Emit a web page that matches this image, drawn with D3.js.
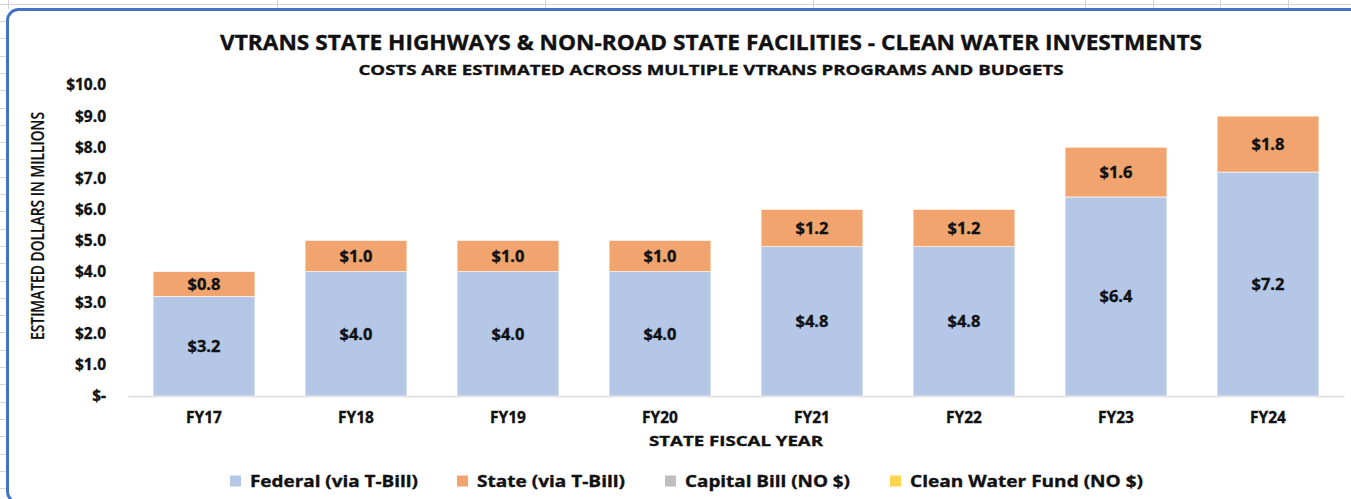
<!DOCTYPE html>
<html lang="en">
<head>
    <meta charset="UTF-8">
    <script src="https://d3js.org/d3.v7.min.js"></script>
    <title>VTrans Clean Water Investments</title>
    <style>
        body { margin: 0; background: #fff; }
        svg { display: block; font-family: 'Open Sans', sans-serif; }
        text { fill: #111; }
        text.bold { font-weight: 700; stroke: #111; stroke-width: 0.35px; }
    </style>
</head>
<body>
<svg height="499" width="1351"></svg>
<script>
    const years = ["FY17", "FY18", "FY19", "FY20", "FY21", "FY22", "FY23", "FY24"];
    const federal = [3.2, 4.0, 4.0, 4.0, 4.8, 4.8, 6.4, 7.2];
    const state = [0.8, 1.0, 1.0, 1.0, 1.2, 1.2, 1.6, 1.8];
    const capitalBill = [0, 0, 0, 0, 0, 0, 0, 0];
    const cleanWaterFund = [0, 0, 0, 0, 0, 0, 0, 0];
    const yTicks = [0, 1, 2, 3, 4, 5, 6, 7, 8, 9, 10];
    const seriesNames = ["Federal (via T-Bill)", "State (via T-Bill)", "Capital Bill (NO $)", "Clean Water Fund (NO $)"];
    const colors = ["#B4C7E7", "#F2A46E", "#BFBFBF", "#FFD54F"];

    const svg = d3.select("svg");

    // spreadsheet behind the chart
    const sheet = svg.append("g").attr("stroke", "#d4d4d4").attr("stroke-width", 1);
    sheet.append("line").attr("x1", 0).attr("x2", 1351).attr("y1", 4.5).attr("y2", 4.5);
    [8, 277, 545, 813, 1085, 1153, 1220, 1288].forEach(x =>
        sheet.append("line").attr("x1", x + .5).attr("x2", x + .5).attr("y1", 0).attr("y2", 9));
    d3.range(21, 499, 17.3).forEach(y =>
        sheet.append("line").attr("x1", 0).attr("x2", 7).attr("y1", Math.round(y) + .5).attr("y2", Math.round(y) + .5));

    // chart frame
    svg.append("rect")
        .attr("x", 7.5).attr("y", 9.5).attr("width", 1420).attr("height", 493)
        .attr("rx", 11).attr("fill", "#fff")
        .attr("stroke", "#4472C4").attr("stroke-width", 3);

    const x = d3.scaleBand().domain(years).range([128, 1344])
        .paddingInner(0.33).paddingOuter(0.165);
    const y = d3.scaleLinear().domain([0, 10]).range([396, 85]);

    const table = years.map((fy, i) => ({
        fy, federal: federal[i], state: state[i], capital: capitalBill[i], clean: cleanWaterFund[i]
    }));
    const keys = ["federal", "state", "capital", "clean"];
    const stacked = d3.stack().keys(keys)(table);

    // y axis labels
    const yAxis = d3.axisLeft(y).tickValues(yTicks).tickSize(0).tickPadding(0)
        .tickFormat(d => d === 0 ? "$-" : "$" + d3.format(".1f")(d));
    const gy = svg.append("g").attr("transform", "translate(106,0)").call(yAxis);
    gy.select(".domain").remove();
    gy.selectAll("text").attr("class", "bold").style("font-size", "15.5px")
        .style("font-family", "'Open Sans', sans-serif").attr("fill", "#111");

    // x axis
    const xAxis = d3.axisBottom(x).tickSize(0).tickPadding(0);
    const gx = svg.append("g").attr("transform", "translate(0,396)").call(xAxis);
    gx.select(".domain").attr("stroke", "#d9d9d9").attr("stroke-width", 1.5);
    gx.selectAll("text").attr("class", "bold").attr("dy", null).attr("y", 27)
        .style("font-size", "15.5px").style("font-family", "'Open Sans', sans-serif").attr("fill", "#111");

    // bars
    const layers = svg.append("g").selectAll("g").data(stacked).enter().append("g")
        .attr("fill", (d, i) => colors[i]);
    layers.selectAll("rect").data(d => d.filter(s => s[1] - s[0] > 0)).enter().append("rect")
        .attr("x", d => x(d.data.fy)).attr("width", x.bandwidth())
        .attr("y", d => y(d[1])).attr("height", d => y(d[0]) - y(d[1]))
        .attr("stroke", "#fff").attr("stroke-width", 0.6);
    layers.selectAll("text").data(d => d.filter(s => s[1] - s[0] > 0)).enter().append("text")
        .attr("class", "bold")
        .attr("x", d => x(d.data.fy) + x.bandwidth() / 2)
        .attr("y", d => (y(d[0]) + y(d[1])) / 2)
        .attr("dy", "0.36em").attr("text-anchor", "middle")
        .style("font-size", "16.5px")
        .text(d => "$" + d3.format(".1f")(d[1] - d[0]));

    // titles
    svg.append("text").attr("class", "bold")
        .attr("x", 711).attr("y", 50).attr("text-anchor", "middle")
        .attr("textLength", 982).attr("lengthAdjust", "spacingAndGlyphs")
        .style("font-size", "21px")
        .text("VTRANS STATE HIGHWAYS & NON-ROAD STATE FACILITIES - CLEAN WATER INVESTMENTS");
    svg.append("text").attr("class", "bold")
        .attr("x", 711).attr("y", 75).attr("text-anchor", "middle")
        .attr("textLength", 705).attr("lengthAdjust", "spacingAndGlyphs")
        .style("font-size", "14px")
        .text("COSTS ARE ESTIMATED ACROSS MULTIPLE VTRANS PROGRAMS AND BUDGETS");

    svg.append("text")
        .attr("transform", "translate(44,226) rotate(-90)")
        .attr("text-anchor", "middle")
        .attr("textLength", 228).attr("lengthAdjust", "spacingAndGlyphs")
        .style("font-size", "17.5px").style("font-weight", 600)
        .style("stroke", "#111").style("stroke-width", "0.2px")
        .text("ESTIMATED DOLLARS IN MILLIONS");

    svg.append("text").attr("class", "bold")
        .attr("x", 736).attr("y", 446).attr("text-anchor", "middle")
        .attr("textLength", 174).attr("lengthAdjust", "spacingAndGlyphs")
        .style("font-size", "15px")
        .text("STATE FISCAL YEAR");

    // legend
    const legendX = [230, 457, 665, 890];
    const legendW = [168, 148, 165, 233];
    const legend = svg.append("g").selectAll("g").data(seriesNames).enter().append("g")
        .attr("transform", (d, i) => `translate(${legendX[i]},481)`);
    legend.append("rect").attr("x", 0).attr("y", -5.5).attr("width", 11).attr("height", 11)
        .attr("fill", (d, i) => colors[i]);
    legend.append("text").attr("class", "bold")
        .attr("x", 20).attr("dy", "0.36em")
        .attr("textLength", (d, i) => legendW[i]).attr("lengthAdjust", "spacingAndGlyphs")
        .style("font-size", "16px")
        .text(d => d);
</script>
</body>
</html>
